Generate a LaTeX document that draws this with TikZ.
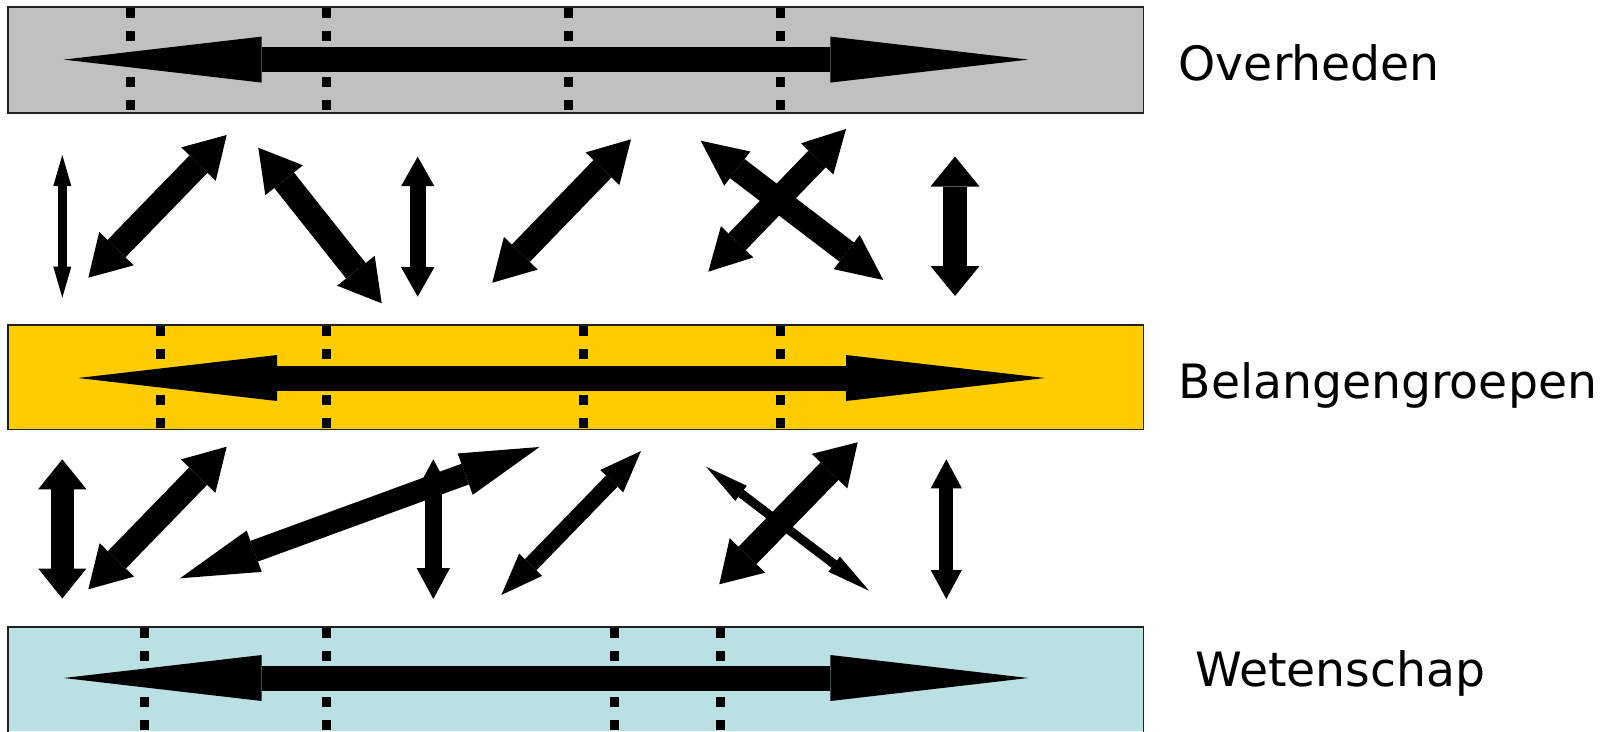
\documentclass[tikz,border=0pt]{standalone}
\usepackage{fontspec}
\setmainfont{DejaVu Sans}
\usetikzlibrary{arrows.meta}
\definecolor{govgray}{HTML}{C0C0C0}
\definecolor{grpyel}{HTML}{FFCC00}
\definecolor{sciblue}{HTML}{BBE0E3}
\definecolor{edge}{HTML}{202020}
\tikzset{
  band/.style={draw=edge, line width=1.6pt, inner sep=0pt, minimum width=1135.3pt},
  dots/.style={line width=9pt, dash pattern=on 10.5pt off 12.5pt},
  darrow/.style args={#1/#2/#3}{line width=#1, {Triangle[length=#3,width=#2,line width=0pt]}-{Triangle[length=#3,width=#2,line width=0pt]}},
  lbl/.style={anchor=base west, inner sep=0pt, font=\fontsize{47.3}{56}\selectfont}
}
\begin{document}
\begin{tikzpicture}[x=1pt,y=-1pt]
\useasboundingbox (0,0) rectangle (1611,731);
% bands
\node[band, fill=govgray, minimum height=105.8pt] (gov) at (575.85,60.1) {};
\node[band, fill=grpyel, minimum height=104.8pt] (grp) at (575.85,377.1) {};
\fill[sciblue] (8.2,626.7) rectangle (1143.5,731);
\draw[draw=edge, line width=1.6pt] (8.2,732) -- (8.2,626.7) coordinate (sciTL) -- (1143.5,626.7) coordinate (sciTR) -- (1143.5,732);
% dotted lines
\foreach \xx in {130.5,326.7,568.2,780.8} \draw[dots] (\xx,7.8) -- (\xx,110.5);
\foreach \xx in {160.3,326.7,583.6,780.8} \draw[dots] (\xx,325.6) -- (\xx,428.3);
\foreach \xx in {144.9,326.7,614.4,720.2} \draw[dots] (\xx,627.8) -- (\xx,730.5);
% big arrows
\coordinate (g1) at (63.7,59.6); \coordinate (g2) at (1028.4,59.6);
\draw[darrow=25pt/46pt/198pt] (g1) -- (g2);
\coordinate (b1) at (78,378); \coordinate (b2) at (1045,378);
\draw[darrow=25pt/46pt/199pt] (b1) -- (b2);
\coordinate (s1) at (63.7,678); \coordinate (s2) at (1028.4,678);
\draw[darrow=25pt/46pt/198pt] (s1) -- (s2);
% labels
\node[lbl] (lgov) at (1178.5,80.1) {Overheden};
\node[lbl] (lgrp) at (1178.5,398.6) {Belangengroepen};
\node[lbl] (lsci) at (1194.9,686.3) {Wetenschap};
% arrows between top and middle
\coordinate (a1t) at (62.3,155); \coordinate (a1b) at (62.3,297.7);
\draw[darrow=9pt/18pt/31pt] (a1t) -- (a1b);
\coordinate (a2a) at (88.3,277.7); \coordinate (a2b) at (226.7,135);
\draw[darrow=25pt/48pt/40.5pt] (a2a) -- (a2b);
\coordinate (a3a) at (258.3,147.7); \coordinate (a3b) at (381.7,303.3);
\draw[darrow=25pt/48pt/41.5pt] (a3a) -- (a3b);
\coordinate (a4t) at (417.7,156.7); \coordinate (a4b) at (417.7,296.7);
\draw[darrow=16pt/33.3pt/29.5pt] (a4t) -- (a4b);
\coordinate (a5a) at (492.3,282.7); \coordinate (a5b) at (631,139.3);
\draw[darrow=25pt/47pt/41pt] (a5a) -- (a5b);
\coordinate (a6a) at (708.3,271.7); \coordinate (a6b) at (846,129);
\draw[darrow=24pt/45pt/41.5pt] (a6a) -- (a6b);
\coordinate (a7a) at (700.7,140.7); \coordinate (a7b) at (883.3,280);
\draw[darrow=24pt/43pt/46pt] (a7a) -- (a7b);
\coordinate (a8t) at (955,156.5); \coordinate (a8b) at (955,296);
\draw[darrow=24pt/49pt/30pt] (a8t) -- (a8b);
% arrows between middle and bottom
\coordinate (c1t) at (62.3,459.3); \coordinate (c1b) at (62.3,598.5);
\draw[darrow=23.3pt/48.3pt/30pt] (c1t) -- (c1b);
\coordinate (c2a) at (88.3,589.3); \coordinate (c2b) at (226.7,446.7);
\draw[darrow=25pt/48pt/41pt] (c2a) -- (c2b);
\coordinate (c4t) at (433.3,459.3); \coordinate (c4b) at (433.3,599);
\draw[darrow=17.3pt/33.3pt/31pt] (c4t) -- (c4b);
\coordinate (c3a) at (180,578.3); \coordinate (c3b) at (539.4,447);
\draw[darrow=22pt/44pt/79pt] (c3a) -- (c3b);
\coordinate (c5a) at (501.4,594.9); \coordinate (c5b) at (641,451);
\draw[darrow=16pt/32pt/42pt] (c5a) -- (c5b);
\coordinate (c6a) at (706,466.7); \coordinate (c6b) at (869.2,590.8);
\draw[darrow=9pt/19pt/44pt] (c6a) -- (c6b);
\coordinate (c7a) at (719.3,584.3); \coordinate (c7b) at (857.7,442.3);
\draw[darrow=25pt/49.5pt/40.3pt] (c7a) -- (c7b);
\coordinate (c8t) at (946.3,459.3); \coordinate (c8b) at (946.3,599);
\draw[darrow=14pt/31.2pt/29pt] (c8t) -- (c8b);
\end{tikzpicture}
\end{document}
